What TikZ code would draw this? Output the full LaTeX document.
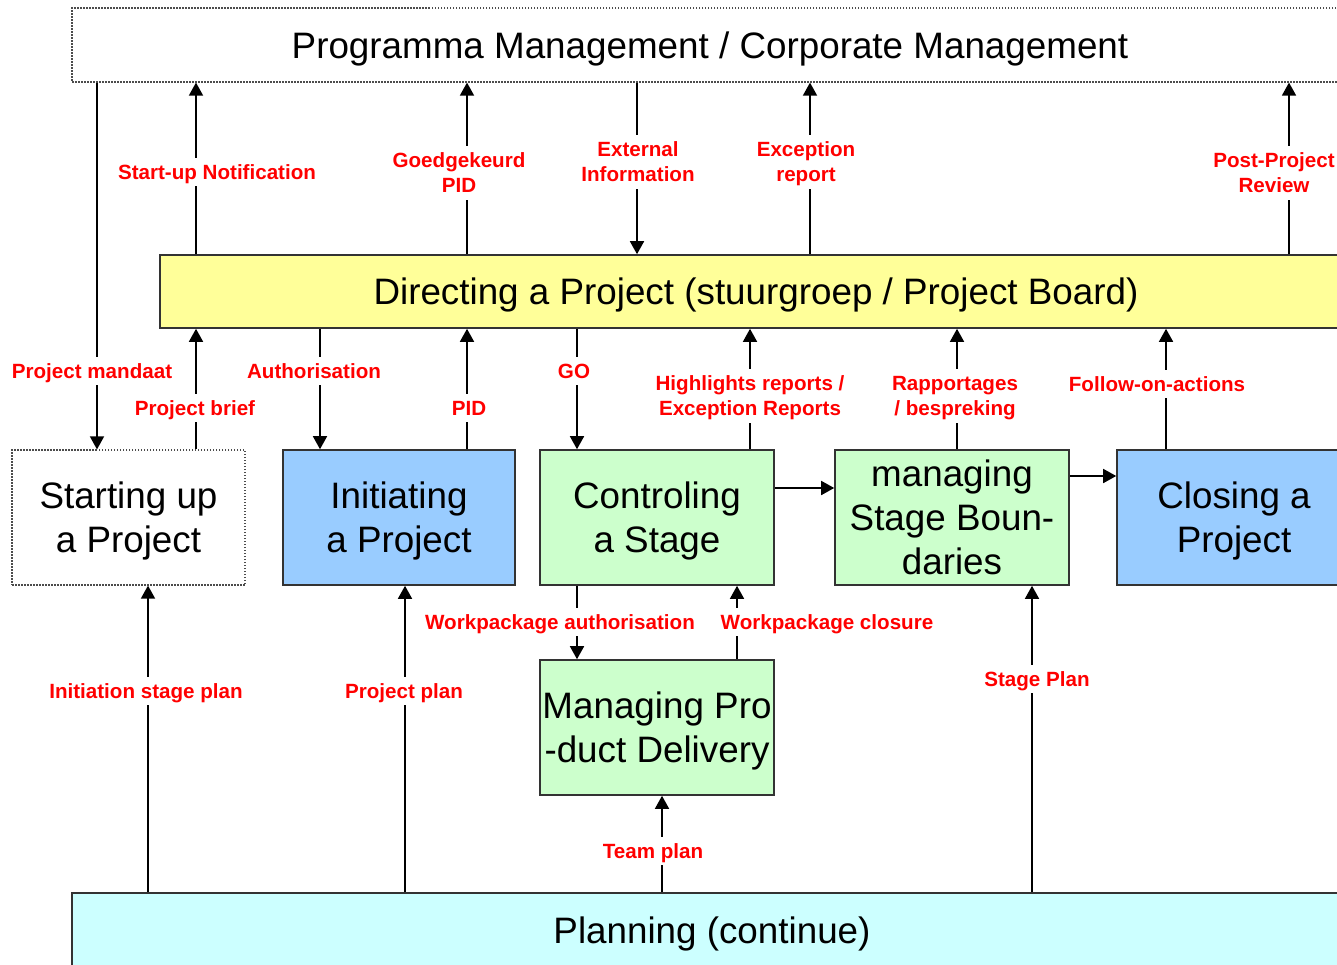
\documentclass[tikz,border=0pt]{standalone}
\usepackage{fontspec}
\setmainfont{Liberation Sans}
\usetikzlibrary{arrows.meta}
\definecolor{cyellow}{HTML}{FFFF99}
\definecolor{cblue}{HTML}{99CCFF}
\definecolor{cgreen}{HTML}{CCFFCC}
\definecolor{ccyan}{HTML}{CCFFFF}
\definecolor{cred}{HTML}{FF0000}
\begin{document}
\begin{tikzpicture}[x=1pt,y=-1pt,
  box/.style={draw=black!80, line width=1.6pt, inner sep=0pt, align=center, text depth=0pt, font=\fontsize{36.8}{44}\selectfont},
  dotbox/.style={box, draw=black!70, dash pattern=on 1.5pt off 1.5pt, line width=1.2pt},
  arr/.style={line width=1.6pt, -{Triangle[length=13pt,width=14pt]}},
  lab/.style={fill=white, text=cred, font=\fontsize{20.6}{25}\bfseries\selectfont, align=center, text depth=0pt, inner xsep=2pt, inner ysep=7pt}]
\clip (0,0) rectangle (1337,964);
\fill[white] (0,0) rectangle (1337,964);
% boxes
\node[dotbox, minimum width=1276, minimum height=74] (pm) at (710,45) {Programma Management / Corporate Management};
\node[box, fill=cyellow, minimum width=1192, minimum height=73] (dp) at (756,291.5) {Directing a Project (stuurgroep / Project Board)};
\node[dotbox, minimum width=233, minimum height=135] (su) at (128.5,517.5) {Starting up\\a Project};
\node[box, fill=cblue, minimum width=232, minimum height=135] (ip) at (399,517.5) {Initiating\\a Project};
\node[box, fill=cgreen, minimum width=234, minimum height=135] (cs) at (657,517.5) {Controling\\a Stage};
\node[box, fill=cgreen, minimum width=234, minimum height=135] (sb) at (952,517.5) {managing\\Stage Boun-\\daries};
\node[box, fill=cblue, minimum width=234, minimum height=135] (cp) at (1234,517.5) {Closing a\\Project};
\node[box, fill=cgreen, minimum width=234, minimum height=135] (pd) at (657,727.5) {Managing Pro\\-duct Delivery};
\node[box, fill=ccyan, minimum width=1280, minimum height=74] (pl) at (712,930) {Planning (continue)};
% connectors
\draw[arr] (97,0 |- pm.south) -- (97,0 |- su.north);
\draw[arr] (196,0 |- su.north) -- (196,0 |- dp.south);
\draw[arr] (196,0 |- dp.north) -- (196,0 |- pm.south);
\draw[arr] (467,0 |- dp.north) -- (467,0 |- pm.south);
\draw[arr] (637,0 |- pm.south) -- (637,0 |- dp.north);
\draw[arr] (810,0 |- dp.north) -- (810,0 |- pm.south);
\draw[arr] (1289,0 |- dp.north) -- (1289,0 |- pm.south);
\draw[arr] (320,0 |- dp.south) -- (320,0 |- ip.north);
\draw[arr] (467,0 |- ip.north) -- (467,0 |- dp.south);
\draw[arr] (577,0 |- dp.south) -- (577,0 |- cs.north);
\draw[arr] (750,0 |- cs.north) -- (750,0 |- dp.south);
\draw[arr] (957,0 |- sb.north) -- (957,0 |- dp.south);
\draw[arr] (1166,0 |- cp.north) -- (1166,0 |- dp.south);
\draw[arr] (cs.east |- 0,488) -- (sb.west |- 0,488);
\draw[arr] (sb.east |- 0,476) -- (cp.west |- 0,476);
\draw[arr] (577,0 |- cs.south) -- (577,0 |- pd.north);
\draw[arr] (737,0 |- pd.north) -- (737,0 |- cs.south);
\draw[arr] (148,0 |- pl.north) -- (148,0 |- su.south);
\draw[arr] (405,0 |- pl.north) -- (405,0 |- ip.south);
\draw[arr] (662,0 |- pl.north) -- (662,0 |- pd.south);
\draw[arr] (1032,0 |- pl.north) -- (1032,0 |- sb.south);
% labels
\node[lab] (l1) at (92,371) {Project mandaat};
\node[lab] (l2) at (195,408) {Project brief};
\node[lab] (l3) at (217,172) {Start-up Notification};
\node[lab] (l4) at (459,173) {Goedgekeurd\\PID};
\node[lab] (l5) at (638,162) {External\\Information};
\node[lab] (l6) at (806,162) {Exception\\report};
\node[lab] (l7) at (1274,173) {Post-Project\\Review};
\node[lab] (l8) at (314,371) {Authorisation};
\node[lab] (l9) at (469,408) {PID};
\node[lab] (l10) at (574,371) {GO};
\node[lab] (l11) at (750,396) {Highlights reports /\\Exception Reports};
\node[lab] (l12) at (955,396) {Rapportages\\/ bespreking};
\node[lab] (l13) at (1157,384) {Follow-on-actions};
\node[lab] (l14) at (560,622) {Workpackage authorisation};
\node[lab] (l15) at (827,622) {Workpackage closure};
\node[lab] (l16) at (146,691) {Initiation stage plan};
\node[lab] (l17) at (404,691) {Project plan};
\node[lab] (l18) at (653,851) {Team plan};
\node[lab] (l19) at (1037,679) {Stage Plan};
\end{tikzpicture}
\end{document}
